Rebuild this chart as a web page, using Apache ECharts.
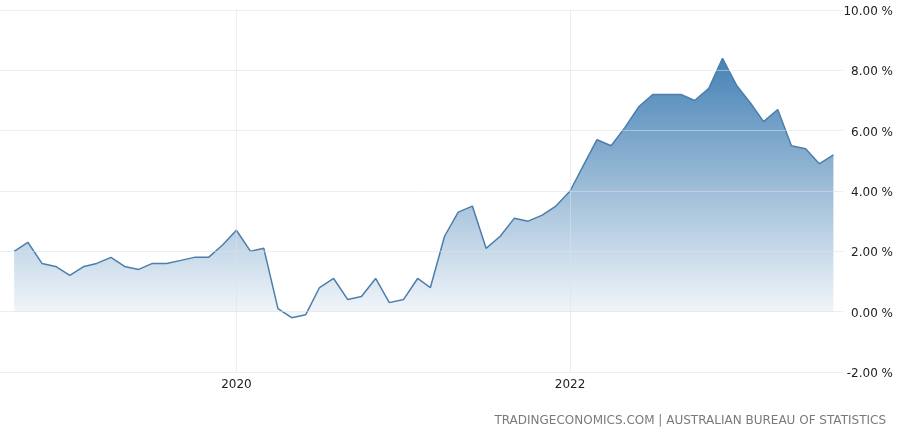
<!DOCTYPE html>
<html>
<head>
<meta charset="utf-8">
<script src="https://cdn.jsdelivr.net/npm/echarts@6/dist/echarts.min.js"></script>
<style>
html,body{margin:0;padding:0;background:#fff;}
#chart{width:900px;height:432px;}
</style>
</head>
<body>
<div id="chart"></div>
<script>
var months = [
  '2018-09-01','2018-10-01','2018-11-01','2018-12-01',
  '2019-01-01','2019-02-01','2019-03-01','2019-04-01','2019-05-01','2019-06-01',
  '2019-07-01','2019-08-01','2019-09-01','2019-10-01','2019-11-01','2019-12-01',
  '2020-01-01','2020-02-01','2020-03-01','2020-04-01','2020-05-01','2020-06-01',
  '2020-07-01','2020-08-01','2020-09-01','2020-10-01','2020-11-01','2020-12-01',
  '2021-01-01','2021-02-01','2021-03-01','2021-04-01','2021-05-01','2021-06-01',
  '2021-07-01','2021-08-01','2021-09-01','2021-10-01','2021-11-01','2021-12-01',
  '2022-01-01','2022-02-01','2022-03-01','2022-04-01','2022-05-01','2022-06-01',
  '2022-07-01','2022-08-01','2022-09-01','2022-10-01','2022-11-01','2022-12-01',
  '2023-01-01','2023-02-01','2023-03-01','2023-04-01','2023-05-01','2023-06-01',
  '2023-07-01','2023-08-01'
];
var inflation = [
  2.0, 2.3, 1.6, 1.5,
  1.2, 1.5, 1.6, 1.8, 1.5, 1.4, 1.6, 1.6, 1.7, 1.8, 1.8, 2.2,
  2.7, 2.0, 2.1, 0.1, -0.2, -0.1, 0.8, 1.1, 0.4, 0.5, 1.1, 0.3,
  0.4, 1.1, 0.8, 2.5, 3.3, 3.5, 2.1, 2.5, 3.1, 3.0, 3.2, 3.5,
  4.0, 4.9, 5.7, 5.5, 6.1, 6.8, 7.2, 7.2, 7.2, 7.0, 7.4, 8.4,
  7.5, 6.9, 6.3, 6.7, 5.5, 5.4, 4.9, 5.2
];
var yearTicks = ['2020-01-01', '2022-01-01'];
var xRange = ['2018-08-01', '2023-08-22'];
var yTicks = [-2, 0, 2, 4, 6, 8, 10];
var sourceText = 'TRADINGECONOMICS.COM | AUSTRALIAN BUREAU OF STATISTICS';

function ts(s) { return Date.parse(s + 'T00:00:00Z'); }
var seriesData = months.map(function (m, i) { return [ts(m), inflation[i]]; });
var yearTickTimes = yearTicks.map(ts);

var gridLineColor = 'rgba(222,224,228,0.55)';
var labelStyle = {
  show: true,
  position: 'start',
  distance: 7,
  color: '#222',
  fontFamily: 'DejaVu Sans',
  fontSize: 12,
  formatter: function (p) { return String(new Date(p.value).getUTCFullYear()); }
};
var gridMarks = yTicks.map(function (v) {
  return { yAxis: v, label: { show: false } };
}).concat(yearTickTimes.map(function (t) {
  return { xAxis: t, label: labelStyle };
}));

var chart = echarts.init(document.getElementById('chart'));
chart.setOption({
  animation: false,
  backgroundColor: '#ffffff',
  grid: { left: 0, right: 57, top: 10, bottom: 60, containLabel: false },
  xAxis: {
    type: 'value',
    min: ts(xRange[0]),
    max: ts(xRange[1]),
    axisLine: { show: false },
    axisTick: { show: false },
    splitLine: { show: false },
    axisLabel: { show: false }
  },
  yAxis: {
    type: 'value',
    position: 'right',
    min: yTicks[0],
    max: yTicks[yTicks.length - 1],
    interval: 2,
    axisLine: { show: false },
    axisTick: { show: false },
    splitLine: { show: false },
    axisLabel: {
      formatter: function (v) { return '{v|' + v.toFixed(2) + ' %}'; },
      align: 'right',
      margin: 50,
      rich: {
        v: {
          color: '#222',
          fontFamily: 'DejaVu Sans',
          fontSize: 12,
          padding: [4, 0, 0, 0]
        }
      }
    }
  },
  series: [{
    type: 'line',
    data: seriesData,
    symbol: 'none',
    z: 2,
    lineStyle: { color: '#4d7eab', width: 1.5 },
    areaStyle: {
      opacity: 1,
      color: {
        type: 'linear', x: 0, y: 0, x2: 0, y2: 1,
        colorStops: [
          { offset: 0, color: 'rgba(70,130,182,1)' },
          { offset: 1, color: 'rgba(70,130,182,0.06)' }
        ]
      }
    }
  }, {
    type: 'line',
    data: [],
    z: 6,
    markLine: {
      silent: true,
      symbol: 'none',
      z: 6,
      lineStyle: { color: gridLineColor, type: 'solid', width: 1 },
      data: gridMarks
    }
  }],
  graphic: [{
    type: 'text',
    right: 14,
    top: 415,
    style: {
      text: sourceText,
      fill: '#7a7a7a',
      font: '12px "DejaVu Sans"'
    }
  }]
});
</script>
</body>
</html>
